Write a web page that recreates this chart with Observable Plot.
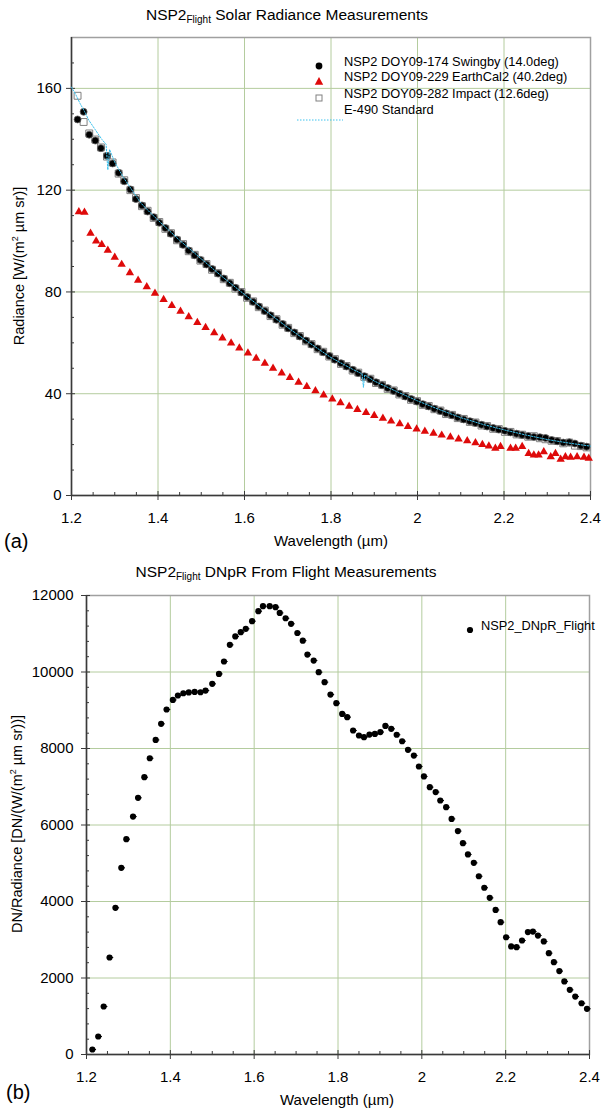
<!DOCTYPE html>
<html>
<head>
<meta charset="utf-8">
<script src="https://cdn.jsdelivr.net/npm/d3@7"></script>
<script src="https://cdn.jsdelivr.net/npm/@observablehq/plot@0.6"></script>
<style>
  body { margin: 0; background: #fff; }
  #wrap { position: relative; width: 604px; height: 1111px; font-family: "Liberation Sans", Arial, sans-serif; color: #000; background: #fff; overflow: hidden; }
  .abs { position: absolute; white-space: nowrap; }
  .title { font-size: 15.5px; line-height: 15px; text-align: center; }
  .title sub { font-size: 10px; vertical-align: -3px; line-height: 0; }
  .xlab { font-size: 15px; line-height: 15px; transform: translateX(-50%); }
  .ylab { font-size: 14.5px; line-height: 15px; transform: translate(-50%, -50%) rotate(-90deg); }
  .ylab sup { font-size: 9px; line-height: 0; vertical-align: 6px; }
  .panel { font-size: 20px; line-height: 20px; }
  .leg { font-size: 12.8px; line-height: 16px; height: 16px; }
  .sym { position: absolute; }
</style>
</head>
<body>
<div id="wrap"></div>
<script>
// ---------------- DATA ----------------
// NSP2 channel wavelengths (µm) – Swingby & Impact series
const wl = [1.214,1.228,1.241,1.255,1.268,1.282,1.295,1.309,1.322,1.336,
  1.349,1.363,1.376,1.390,1.403,1.417,1.430,1.444,1.458,1.471,
  1.485,1.498,1.512,1.525,1.539,1.552,1.566,1.579,1.593,1.606,
  1.620,1.633,1.647,1.660,1.674,1.688,1.701,1.715,1.728,1.742,
  1.755,1.769,1.782,1.796,1.809,1.823,1.836,1.850,1.863,1.877,
  1.891,1.904,1.918,1.931,1.945,1.958,1.972,1.985,1.999,2.012,
  2.026,2.039,2.053,2.066,2.080,2.093,2.107,2.121,2.134,2.148,
  2.161,2.175,2.188,2.202,2.215,2.229,2.242,2.256,2.269,2.283,
  2.296,2.310,2.323,2.337,2.351,2.364,2.378,2.391];
// NSP2 DOY09-174 Swingby (14.0deg)
const swingbyRad = [147.8,150.8,141.8,139.5,136.5,133.5,130.5,126.8,123.5,120.3,
  116.5,114.0,111.6,109.4,107.2,105.1,102.9,100.6,98.5,96.3,
  94.4,92.6,90.8,89.0,87.2,85.3,83.4,81.6,79.8,78.0,
  76.1,74.3,72.5,70.8,69.1,67.4,65.7,64.1,62.5,60.9,
  59.3,57.8,56.3,54.8,53.4,52.0,50.7,49.4,48.1,46.9,
  45.7,44.5,43.3,42.2,41.1,40.0,38.9,37.9,36.9,35.9,
  35.0,34.1,33.2,32.3,31.5,30.7,29.9,29.2,28.5,27.8,
  27.1,26.5,25.9,25.4,24.8,24.3,23.8,23.4,23.0,22.9,
  22.6,21.8,21.3,20.8,20.9,20.4,19.6,19.2];
// NSP2 DOY09-282 Impact (12.6deg)
const impactRad = [157.1,146.8,142.3,139.9,136.8,133.2,130.9,126.5,123.9,120.0,
  116.9,113.7,111.9,109.1,107.5,104.8,103.1,100.3,98.8,96.0,
  94.6,92.3,91.0,88.7,87.4,85.0,83.6,81.3,80.0,77.7,
  76.3,74.0,72.7,70.5,69.3,67.1,65.9,63.8,62.7,60.6,
  59.5,57.5,56.5,54.6,53.6,51.7,50.9,49.1,48.3,46.6,
  45.9,44.2,43.5,41.9,41.3,39.7,39.1,37.6,37.1,35.6,
  35.2,33.9,33.4,32.0,31.7,30.4,30.1,28.9,28.7,27.5,
  27.3,26.2,26.1,25.0,25.0,24.0,23.9,23.1,23.3,22.5,
  22.1,21.5,21.4,20.5,20.8,19.6,19.4,18.9];
// NSP2 DOY09-229 EarthCal2 (40.2deg)
const earthWl = [1.217,1.230,1.244,1.257,1.270,1.284,1.300,1.316,1.335,1.354,
  1.374,1.393,1.413,1.432,1.452,1.471,1.491,1.510,1.530,1.549,
  1.569,1.588,1.608,1.627,1.647,1.666,1.686,1.705,1.725,1.744,
  1.764,1.783,1.803,1.822,1.842,1.861,1.881,1.900,1.920,1.939,
  1.959,1.978,1.998,2.017,2.037,2.056,2.076,2.095,2.115,2.134,
  2.150,2.165,2.180,2.192,2.215,2.227,2.242,2.257,2.269,2.280,
  2.292,2.308,2.319,2.331,2.342,2.354,2.369,2.385,2.396];
const earthRad = [111.5,111.3,103.0,100.0,98.6,96.4,93.6,90.8,87.5,84.6,
  82.0,79.5,77.0,74.6,72.4,70.2,68.0,66.0,63.9,61.9,
  59.9,57.9,56.0,53.9,51.9,50.0,48.1,46.3,44.5,42.8,
  41.1,39.5,37.9,36.4,35.0,33.8,32.6,31.4,30.3,29.2,
  28.2,27.1,26.1,25.2,24.4,23.7,23.0,22.2,21.5,20.7,
  20.0,19.4,18.5,19.2,18.5,18.5,19.2,16.5,15.9,15.9,
  17.2,15.2,16.5,14.2,15.2,15.0,15.2,15.0,14.6];
// E-490 Standard
const e490Wl = [1.200,1.210,1.220,1.230,1.240,1.250,1.260,1.270,1.280,1.284,1.288,1.300,1.320,1.340,1.360,1.380,1.400,1.450,1.500,1.550,
  1.600,1.650,1.700,1.750,1.800,1.850,1.872,1.875,1.878,1.900,1.950,2.000,2.050,2.100,2.150,2.200,2.250,2.300,2.350,2.400];
const e490Rad = [160.5,157.5,154.0,151.0,147.5,145.0,142.5,140.0,138.0,128.0,136.0,131.0,125.0,120.0,115.0,111.5,108.2,100.3,93.0,85.8,
  79.0,72.4,66.0,60.0,54.2,49.6,47.8,42.5,47.4,45.0,41.0,37.2,33.8,30.6,28.0,25.8,23.8,22.0,20.6,19.4];
// NSP2_DNpR_Flight
const dnWl = [1.214,1.228,1.241,1.255,1.269,1.283,1.295,1.311,1.323,1.338,
  1.351,1.365,1.378,1.391,1.406,1.418,1.431,1.444,1.458,1.472,
  1.484,1.500,1.516,1.528,1.542,1.555,1.568,1.580,1.595,1.610,
  1.621,1.637,1.651,1.661,1.675,1.688,1.703,1.716,1.727,1.742,
  1.754,1.768,1.782,1.796,1.810,1.822,1.836,1.850,1.862,1.875,
  1.888,1.901,1.913,1.927,1.940,1.953,1.967,1.981,1.993,2.005,
  2.019,2.033,2.044,2.058,2.071,2.086,2.098,2.110,2.124,2.136,
  2.149,2.162,2.176,2.188,2.201,2.213,2.226,2.239,2.253,2.265,
  2.277,2.291,2.303,2.315,2.328,2.340,2.353,2.366,2.381,2.394];
const dnVal = [131,470,1255,2536,3835,4880,5630,6220,6710,7250,
  7745,8225,8645,9020,9270,9385,9445,9465,9480,9470,
  9515,9690,9950,10275,10710,10930,11040,11130,11330,11590,
  11720,11720,11695,11545,11405,11260,11020,10820,10455,10300,
  9995,9735,9410,9185,8905,8820,8470,8340,8295,8365,
  8380,8430,8590,8515,8360,8190,7965,7815,7530,7270,
  6990,6860,6640,6465,6160,5840,5525,5230,5010,4660,
  4360,4095,3780,3460,3065,2825,2805,2980,3200,3215,
  3110,2955,2650,2415,2180,1910,1690,1515,1340,1195];

// Ticks
const xTicks = [1.2, 1.4, 1.6, 1.8, 2, 2.2, 2.4];
const xMinor = [1.25,1.3,1.35,1.45,1.5,1.55,1.65,1.7,1.75,1.85,1.9,1.95,2.05,2.1,2.15,2.25,2.3,2.35];
const yTicks1 = [0, 40, 80, 120, 160];
const yMinor1 = [10,20,30,50,60,70,90,100,110,130,140,150,170];
const yTicks2 = [0, 2000, 4000, 6000, 8000, 10000, 12000];
const yMinor2 = [400,800,1200,1600,2400,2800,3200,3600,4400,4800,5200,5600,6400,6800,7200,7600,8400,8800,9200,9600,10400,10800,11200,11600];

// Texts
const title1 = ["NSP2", "Flight", " Solar Radiance Measurements"];
const title2 = ["NSP2", "Flight", " DNpR From Flight Measurements"];
const legend1 = ["NSP2 DOY09-174 Swingby (14.0deg)", "NSP2 DOY09-229 EarthCal2 (40.2deg)", "NSP2 DOY09-282 Impact (12.6deg)", "E-490 Standard"];
const legend2 = ["NSP2_DNpR_Flight"];

// ---------------- BUILD ----------------
const zip = (xs, ys) => xs.slice(0, Math.min(xs.length, ys.length)).map((w, i) => ({w, v: ys[i]}));
const swingby = zip(wl, swingbyRad);
const impact = zip(wl, impactRad);
const earth = zip(earthWl, earthRad);
const e490 = zip(e490Wl, e490Rad);
const dn = zip(dnWl, dnVal);

const GRID = "#b4cc9e";
const AX = "#3a3a3a";
const RED = "#de0a0a";
const CYAN = "#3cc2ee";
const style = {fontFamily: "'Liberation Sans', Arial, sans-serif", fontSize: "15px", color: "#000", background: "transparent", overflow: "visible"};
const blank = () => "";

function axes(yTicks, yMinor, ytp) {
  return [
    Plot.axisX(xMinor, {tickSize: -3, tickFormat: blank, stroke: AX, label: null}),
    Plot.axisX(xTicks, {tickSize: -4, tickFormat: blank, stroke: AX, label: null}),
    Plot.axisX(xTicks, {tickSize: 5, tickPadding: 12, tickFormat: d => String(d), stroke: AX, label: null}),
    Plot.axisY(yMinor, {tickSize: -3, tickFormat: blank, stroke: AX, label: null}),
    Plot.axisY(yTicks, {tickSize: -4, tickFormat: blank, stroke: AX, label: null}),
    Plot.axisY(yTicks, {tickSize: 5, tickPadding: ytp, tickFormat: d => String(d), stroke: AX, label: null})
  ];
}

const chart1 = Plot.plot({
  width: 604, height: 560,
  marginLeft: 71, marginRight: 14, marginTop: 37, marginBottom: 65,
  x: {domain: [1.2, 2.4], axis: null, label: null},
  y: {domain: [0, 180], axis: null, label: null},
  style,
  marks: [
    Plot.gridX(xTicks, {stroke: GRID, strokeOpacity: 1}),
    Plot.gridY(yTicks1, {stroke: GRID, strokeOpacity: 1}),
    Plot.frame({stroke: "#a0a0a0", strokeWidth: 1.5}),
    ...axes(yTicks1, yMinor1, 5),
    Plot.ruleX([1.2], {stroke: AX, strokeWidth: 1.5}),
    Plot.ruleY([0], {stroke: AX, strokeWidth: 1.5}),
    Plot.dot(impact, {x: "w", y: "v", symbol: "square", r: 3.9, stroke: "#808080", strokeWidth: 1, fill: "white"}),
    Plot.dot(swingby, {x: "w", y: "v", r: 3.5, fill: "#000", stroke: "#666", strokeWidth: 0.8}),
    Plot.dot(earth, {x: "w", y: "v", symbol: "triangle", r: 3.1, fill: RED}),
    Plot.line(e490, {x: "w", y: "v", stroke: CYAN, strokeWidth: 1, strokeDasharray: "1.5,1.5"})
  ]
});

const chart2 = Plot.plot({
  width: 604, height: 551,
  marginLeft: 86, marginRight: 15, marginTop: 35, marginBottom: 57,
  x: {domain: [1.2, 2.4], axis: null, label: null},
  y: {domain: [0, 12000], axis: null, label: null},
  style,
  marks: [
    Plot.gridX(xTicks, {stroke: GRID, strokeOpacity: 1}),
    Plot.gridY(yTicks2, {stroke: GRID, strokeOpacity: 1}),
    Plot.frame({stroke: "#a0a0a0", strokeWidth: 1.5}),
    ...axes(yTicks2, yMinor2, 8),
    Plot.ruleX([1.2], {stroke: AX, strokeWidth: 1.5}),
    Plot.ruleY([0], {stroke: AX, strokeWidth: 1.5}),
    Plot.ruleY(dn, {y: "v", x1: "w", x2: d => d.w + 0.01, stroke: "#000", strokeWidth: 1}),
    Plot.dot(dn, {x: "w", y: "v", r: 3.1, fill: "#000"})
  ]
});

const wrap = document.getElementById("wrap");
function place(el, top) {
  const d = document.createElement("div");
  d.className = "abs";
  d.style.left = "0px"; d.style.top = top + "px";
  d.appendChild(el);
  wrap.appendChild(d);
}
place(chart1, 0);
place(chart2, 560);

function addDiv(cls, left, top, html, extra) {
  const d = document.createElement("div");
  d.className = "abs " + cls;
  d.style.left = left + "px"; d.style.top = top + "px";
  d.innerHTML = html;
  if (extra) Object.assign(d.style, extra);
  wrap.appendChild(d);
  return d;
}
// titles
addDiv("title", 0, 7, `${title1[0]}<sub>${title1[1]}</sub>${title1[2]}`, {width: "574px"});
addDiv("title", 0, 564, `${title2[0]}<sub>${title2[1]}</sub>${title2[2]}`, {width: "572px"});
// axis labels
addDiv("xlab", 331, 533, "Wavelength (µm)");
addDiv("xlab", 337, 1092, "Wavelength (µm)");
addDiv("ylab", 19, 266, "Radiance [W/(m<sup>2</sup> µm sr)]");
addDiv("ylab", 17, 824, "DN/Radiance [DN/(W/(m<sup>2</sup> µm sr))]");
// panel letters
addDiv("panel", 4, 531, "(a)");
addDiv("panel", 6, 1082, "(b)");

// legend 1
const legY = [62, 77, 94, 110];
const legSym = [
  `<svg width="10" height="10"><circle cx="5" cy="5" r="3.4" fill="#000"/></svg>`,
  `<svg width="10" height="10"><polygon points="5,1 9.2,8.8 0.8,8.8" fill="${RED}"/></svg>`,
  `<svg width="10" height="10"><rect x="2" y="2" width="6" height="6" fill="white" stroke="#808080"/></svg>`,
  null
];
legend1.forEach((t, i) => {
  addDiv("leg", 344, legY[i] - 8, t);
  if (legSym[i]) addDiv("sym", 314, legY[i] - 5, legSym[i]);
  else addDiv("sym", 297, legY[i] - 2, `<svg width="46" height="4"><line x1="0" y1="2" x2="46" y2="2" stroke="${CYAN}" stroke-width="1" stroke-dasharray="1.5,1.5"/></svg>`);
});
// legend 2
addDiv("leg", 481, 618, legend2[0]);
addDiv("sym", 465, 621, `<svg width="10" height="10"><circle cx="5" cy="5" r="3.1" fill="#000"/></svg>`);
</script>
</body>
</html>
